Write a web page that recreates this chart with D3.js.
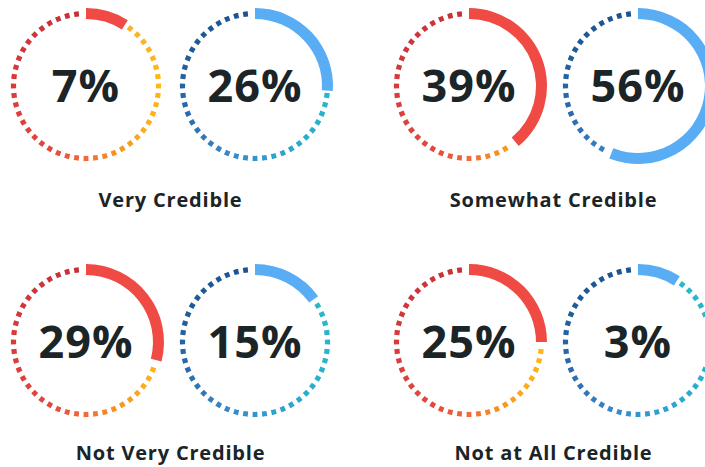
<!DOCTYPE html>
<html>
<head>
<meta charset="utf-8">
<script src="https://cdn.jsdelivr.net/npm/d3@7"></script>
<style>
  html, body { margin: 0; padding: 0; background: #ffffff; }
  svg { display: block; }
</style>
</head>
<body>
<svg id="chart" width="705" height="467"></svg>
<script>
// ---- data ----
const categories = ["Very Credible", "Somewhat Credible", "Not Very Credible", "Not at All Credible"];
const redValues  = [7, 39, 29, 25];   // left ring of each pair (%)
const blueValues = [26, 56, 15, 3];   // right ring of each pair (%)

// ---- layout / style ----
const R = 72.5;             // ring radius
const arcWidth = 11;
const dashWidth = 5.2;
const dashLen = 4.8;
const dashCount = 48;
const minArcPct = 9;        // smallest arc sweep drawn, for visibility
const ringGap = 169;        // distance between the two ring centres of a pair
const groupX = [86, 469];   // left ring centre of column
const rowY = [86, 342];     // ring centre of row
const labelY = [207, 460];

const redArc = "#ef4b44", blueArc = "#58adf4";
const redRamp = d3.scaleLinear()
  .domain([0, 0.1, 0.25, 0.36, 0.43, 0.5, 0.58, 0.75, 1])
  .range(["#f9a33a", "#fbaf2e", "#fdb913", "#fcac1c", "#f7931f", "#f06b3a", "#e5473f", "#d63a3b", "#c52f37"])
  .interpolate(d3.interpolateRgb);
const blueRamp = d3.scaleLinear()
  .domain([0, 0.3, 0.44, 0.55, 0.68, 0.82, 1])
  .range(["#2bb9c9", "#27b4cc", "#2aa3d3", "#3a88c8", "#2c6cae", "#1f5c99", "#1c5190"])
  .interpolate(d3.interpolateRgb);

const angle = d3.scaleLinear().domain([0, 100]).range([0, 2 * Math.PI]);
const textColor = "#1b2427";
const fontFam = "'Open Sans', Lato, sans-serif";

const svg = d3.select("#chart");

const rings = [];
categories.forEach((c, i) => {
  const col = i % 2, row = Math.floor(i / 2);
  rings.push({ cat: c, value: redValues[i], cx: groupX[col], cy: rowY[row], arcColor: redArc, ramp: redRamp });
  rings.push({ cat: c, value: blueValues[i], cx: groupX[col] + ringGap, cy: rowY[row], arcColor: blueArc, ramp: blueRamp });
});

const bigArc = d3.arc().innerRadius(R - arcWidth / 2).outerRadius(R + arcWidth / 2);
const dashArc = d3.arc().innerRadius(R - dashWidth / 2).outerRadius(R + dashWidth / 2);
const dashSweep = dashLen / R;
const step = 2 * Math.PI / dashCount;

const g = svg.selectAll("g.ring").data(rings).join("g")
  .attr("class", "ring")
  .attr("transform", d => `translate(${d.cx},${d.cy})`);

g.each(function (d) {
  const sel = d3.select(this);
  const end = angle(Math.max(d.value, minArcPct));
  const dashes = d3.range(dashCount)
    .map(k => k * step - dashSweep / 2)
    .filter(a => a > end + 2 / R && a + dashSweep < 2 * Math.PI - 2 / R);
  sel.selectAll("path.dash").data(dashes).join("path")
    .attr("class", "dash")
    .attr("d", a => dashArc({ startAngle: a, endAngle: a + dashSweep }))
    .attr("fill", a => d.ramp((a + dashSweep / 2) / (2 * Math.PI)));
  sel.append("path")
    .attr("d", bigArc({ startAngle: 0, endAngle: end }))
    .attr("fill", d.arcColor);
  sel.append("text")
    .attr("text-anchor", "middle")
    .attr("y", 16)
    .attr("font-family", fontFam)
    .attr("font-weight", 700)
    .attr("font-size", 45)
    .attr("letter-spacing", 1)
    .attr("fill", textColor)
    .text(d.value + "%");
});

svg.selectAll("text.label").data(categories).join("text")
  .attr("class", "label")
  .attr("x", (d, i) => groupX[i % 2] + ringGap / 2)
  .attr("y", (d, i) => labelY[Math.floor(i / 2)])
  .attr("text-anchor", "middle")
  .attr("font-family", fontFam)
  .attr("font-weight", 700)
  .attr("font-size", 20)
  .attr("letter-spacing", 0.8)
  .attr("fill", textColor)
  .text(d => d);
</script>
</body>
</html>
